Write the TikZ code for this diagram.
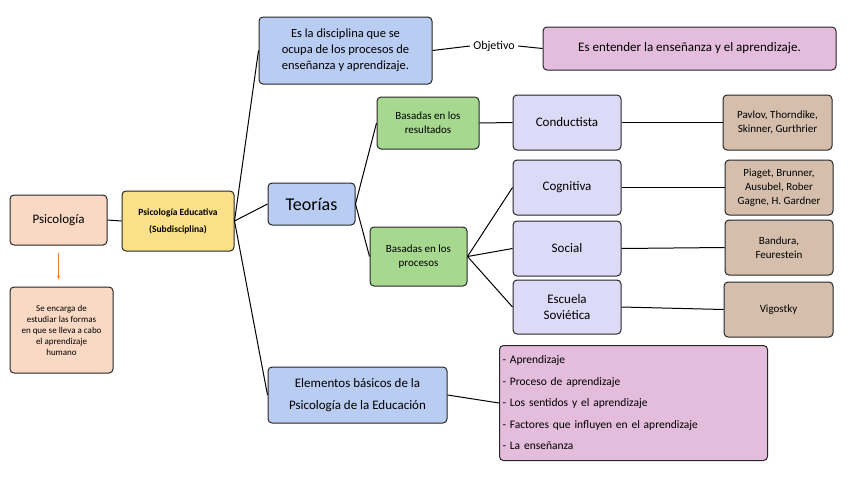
\documentclass[tikz,border=0pt]{standalone}
\usepackage{fontspec}
\setmainfont{Carlito}
\usetikzlibrary{arrows.meta}
\definecolor{cpeach}{HTML}{F9D9C4}
\definecolor{cyel}{HTML}{FBE08A}
\definecolor{cblue}{HTML}{B9CDF2}
\definecolor{cpink}{HTML}{E4BCDC}
\definecolor{cgreen}{HTML}{A6D98F}
\definecolor{clav}{HTML}{DCDAF6}
\definecolor{ctan}{HTML}{D5BFAC}
\definecolor{corange}{HTML}{ED7D31}
\begin{document}
\begin{tikzpicture}[x=1pt,y=-1pt,
 bx/.style={draw=black!85,line width=1pt,rounded corners=4pt,align=center,inner sep=1pt},
 ln/.style={line width=1pt}]
\useasboundingbox (0,0) rectangle (848,477);
\newcommand{\bxat}[7]{\node[bx,fill=#6,minimum width=#3pt-#1pt,minimum height=#4pt-#2pt,font=#7] (#5) at ({(#1+#3)/2},{(#2+#4)/2})}
\bxat{10}{195}{107}{245}{psi}{cpeach}{\fontsize{13}{15}\selectfont}{Psicología};
\bxat{10}{287}{113}{373}{enc}{cpeach}{\fontsize{9}{11}\selectfont}{Se encarga de\\estudiar las formas\\en que se lleva a cabo\\el aprendizaje\\humano};
\bxat{122}{191}{234}{251}{ped}{cyel}{\fontsize{9.5}{17}\selectfont\bfseries}{Psicología Educativa\\(Subdisciplina)};
\bxat{259}{17}{432}{84}{dis}{cblue}{\fontsize{12.5}{16}\selectfont}{Es  la disciplina que se\\ocupa de los procesos de\\enseñanza y aprendizaje.};
\node[font=\fontsize{12}{14}\selectfont] (obj) at (494,46) {Objetivo};
\bxat{543}{27}{836}{70}{ent}{cpink}{\fontsize{13}{15}\selectfont}{Es entender la enseñanza y el aprendizaje.};
\bxat{268}{183}{355}{225}{teo}{cblue}{\fontsize{18}{20}\selectfont}{Teorías};
\bxat{377}{97}{479}{149}{res}{cgreen}{\fontsize{11}{14}\selectfont}{Basadas en los\\resultados};
\bxat{370}{227}{467}{286}{pro}{cgreen}{\fontsize{11}{14}\selectfont}{Basadas en los\\procesos};
\bxat{513}{95}{621}{150}{con}{clav}{\fontsize{13}{15}\selectfont}{Conductista};
\bxat{513}{160}{621}{215}{cog}{clav}{\fontsize{13}{15}\selectfont}{Cognitiva};
\bxat{513}{221}{621}{276}{soc}{clav}{\fontsize{13}{15}\selectfont}{Social};
\bxat{513}{280}{621}{334}{esc}{clav}{\fontsize{13}{16}\selectfont}{Escuela\\Soviética};
\bxat{723}{95}{832}{150}{pav}{ctan}{\fontsize{11}{14}\selectfont}{Pavlov, Thorndike,\\Skinner, Gurthrier};
\bxat{725}{160}{833}{215}{pia}{ctan}{\fontsize{11}{14}\selectfont}{Piaget, Brunner,\\Ausubel, Rober\\Gagne, H. Gardner};
\bxat{725}{220}{833}{275}{ban}{ctan}{\fontsize{11}{14}\selectfont}{Bandura,\\Feurestein};
\bxat{724}{282}{833}{337}{vig}{ctan}{\fontsize{11}{14}\selectfont}{Vigostky};
\bxat{268}{367}{447}{423}{ele}{cblue}{\fontsize{13}{22}\selectfont}{Elementos básicos de la\\Psicología de la Educación};
\node[bx,fill=cpink,minimum width=268pt,minimum height=115pt,align=left,anchor=north west,text width=262pt,font=\fontsize{11.5}{21.5}\selectfont] (lst) at (499,345)
 {- Aprendizaje\\- Proceso de aprendizaje\\- Los sentidos  y el aprendizaje\\- Factores que influyen en el aprendizaje\\-  La enseñanza};
\draw[ln] (psi.east) -- (ped.west);
\draw[ln] (ped.east) -- (dis.west);
\draw[ln] (ped.east) -- (teo.west);
\draw[ln] (ped.east) -- (ele.west);
\draw[ln] (dis.east) -- (obj.west);
\draw[ln] (obj.east) -- (ent.west);
\draw[ln] (teo.east) -- (res.west);
\draw[ln] (teo.east) -- (pro.west);
\draw[ln] (res.east) -- (con.west);
\draw[ln] (pro.east) -- (cog.west);
\draw[ln] (pro.east) -- (soc.west);
\draw[ln] (pro.east) -- (esc.west);
\draw[ln] (con.east) -- (pav.west);
\draw[ln] (cog.east) -- (pia.west);
\draw[ln] (soc.east) -- (ban.west);
\draw[ln] (esc.east) -- (vig.west);
\draw[ln] (ele.east) -- (lst.west);
\coordinate (ae) at ([yshift=7pt]enc.north);
\draw[corange,line width=1.3pt,-{Stealth[length=4pt]}] ([yshift=-7pt]psi.south) -- (ae -| psi.south);
\end{tikzpicture}
\end{document}
